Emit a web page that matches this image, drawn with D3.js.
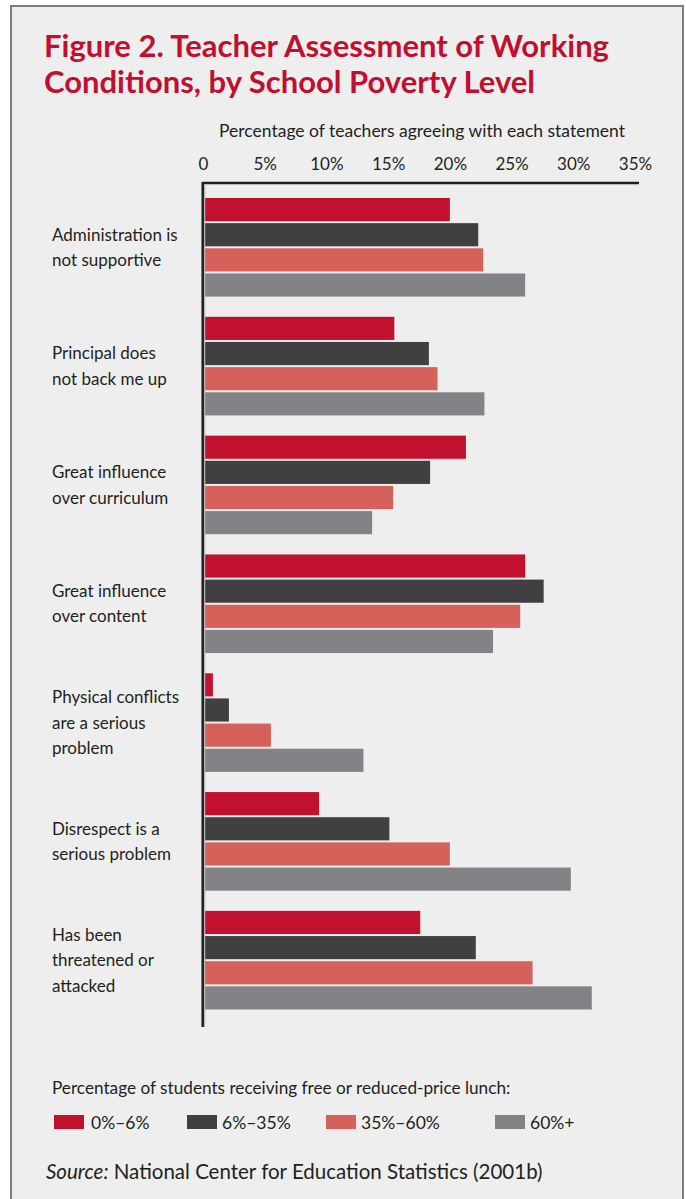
<!DOCTYPE html>
<html>
<head>
<meta charset="utf-8">
<script src="https://cdn.jsdelivr.net/npm/d3@7"></script>
<style>
  body { margin: 0; background: #fff; }
  text { font-family: Lato, "Open Sans", sans-serif; fill: #231f20; }
</style>
</head>
<body>
<div id="chart"></div>
<script>
// statements (y categories), one array per lunch group
let categories = [
    ['Administration is', 'not supportive'],
    ['Principal does', 'not back me up'],
    ['Great influence', 'over curriculum'],
    ['Great influence', 'over content'],
    ['Physical conflicts', 'are a serious', 'problem'],
    ['Disrespect is a', 'serious problem'],
    ['Has been', 'threatened or', 'attacked']
];
let seriesNames = ['0%–6%', '6%–35%', '35%–60%', '60%+'];
let low = [20.0, 15.5, 21.3, 26.1, 0.8, 9.4, 17.6];
let lowMid = [22.3, 18.3, 18.4, 27.6, 2.1, 15.1, 22.1];
let highMid = [22.7, 19.0, 15.4, 25.7, 5.5, 20.0, 26.7];
let high = [26.1, 22.8, 13.7, 23.5, 13.0, 29.8, 31.5];
let tickValues = [0, 5, 10, 15, 20, 25, 30, 35];

let series = [low, lowMid, highMid, high];
let colors = ['#c1112e', '#404040', '#d6605a', '#838387'];

let W = 686, H = 1199;
let svg = d3.select('#chart').append('svg')
    .attr('width', W)
    .attr('height', H);

// grey panel with border
svg.append('rect')
    .attr('x', 11).attr('y', 6)
    .attr('width', 672).attr('height', H + 10)
    .attr('fill', '#eeeeee')
    .attr('stroke', '#7d7d7d')
    .attr('stroke-width', 2);

// title
let title = svg.append('text')
    .attr('x', 44).attr('y', 57)
    .style('font-size', '31px')
    .style('font-weight', 'bold')
    .style('fill', '#c0102f');
title.append('tspan').attr('x', 44).text('Figure 2. Teacher Assessment of Working');
title.append('tspan').attr('x', 44).attr('dy', 36).text('Conditions, by School Poverty Level');

// scales
let x = d3.scaleLinear()
    .domain([0, 35])
    .range([203, 635]);

let y = d3.scaleBand()
    .domain(d3.range(categories.length))
    .range([198, 1009.5])
    .paddingInner(0.17)
    .paddingOuter(0);

let ySub = d3.scaleBand()
    .domain(d3.range(series.length))
    .range([0, y.bandwidth()])
    .paddingInner(0.08);

// axis title
svg.append('text')
    .attr('x', 422).attr('y', 137)
    .attr('text-anchor', 'middle')
    .style('font-size', '17.5px')
    .text('Percentage of teachers agreeing with each statement');

// top axis
let axis = d3.axisTop(x)
    .tickValues(tickValues)
    .tickSize(0)
    .tickPadding(13)
    .tickFormat(function (d) { return d === 0 ? '0' : d + '%'; });

let gAxis = svg.append('g')
    .attr('transform', 'translate(0,183)')
    .call(axis);
gAxis.select('.domain').remove();
gAxis.selectAll('text')
    .style('font-family', 'Lato, sans-serif')
    .style('font-size', '17px')
    .style('fill', '#231f20');

// bars
let groups = svg.selectAll('g.group')
    .data(categories)
    .enter()
    .append('g')
    .attr('class', 'group')
    .attr('transform', function (d, i) { return 'translate(0,' + y(i) + ')'; });

groups.selectAll('rect')
    .data(function (d, i) {
        return series.map(function (s, j) { return { value: s[i], s: j }; });
    })
    .enter()
    .append('rect')
    .attr('x', x(0))
    .attr('y', function (d) { return ySub(d.s); })
    .attr('width', function (d) { return x(d.value) - x(0); })
    .attr('height', ySub.bandwidth())
    .attr('fill', function (d) { return colors[d.s]; });

// category labels, centred on each group
let lineH = 25.5;
groups.append('text')
    .style('font-size', '17px')
    .each(function (d) {
        let t = d3.select(this);
        let top = y.bandwidth() / 2 - (d.length - 1) * lineH / 2 + 6;
        d.forEach(function (line, k) {
            t.append('tspan')
                .attr('x', 52)
                .attr('y', top + k * lineH)
                .text(line);
        });
    });

// axis lines
svg.append('line')
    .attr('x1', 202).attr('x2', 639)
    .attr('y1', 183).attr('y2', 183)
    .attr('stroke', '#231f20')
    .attr('stroke-width', 2.5);
svg.append('line')
    .attr('x1', 204.5).attr('x2', 204.5)
    .attr('y1', 184).attr('y2', 1027)
    .attr('stroke', '#b5b5b5')
    .attr('stroke-width', 1.5);
svg.append('line')
    .attr('x1', 202.7).attr('x2', 202.7)
    .attr('y1', 182).attr('y2', 1027)
    .attr('stroke', '#231f20')
    .attr('stroke-width', 2.5);

// legend
svg.append('text')
    .attr('x', 52).attr('y', 1094)
    .style('font-size', '17.2px')
    .text('Percentage of students receiving free or reduced-price lunch:');

let legendX = [54, 187, 326, 495];
let legend = svg.selectAll('g.legend')
    .data(seriesNames)
    .enter()
    .append('g')
    .attr('class', 'legend')
    .attr('transform', function (d, i) { return 'translate(' + legendX[i] + ',1115)'; });
legend.append('rect')
    .attr('width', 30).attr('height', 14)
    .attr('fill', function (d, i) { return colors[i]; });
legend.append('text')
    .attr('x', function (d, i) { return i === 0 ? 37 : 35; })
    .attr('y', 13.5)
    .style('font-size', '17.5px')
    .text(function (d) { return d; });

// source
let source = svg.append('text')
    .attr('x', 46).attr('y', 1179)
    .style('font-size', '20.5px');
source.append('tspan').style('font-style', 'italic').text('Source:');
source.append('tspan').text(' National Center for Education Statistics (2001b)');
</script>
</body>
</html>
